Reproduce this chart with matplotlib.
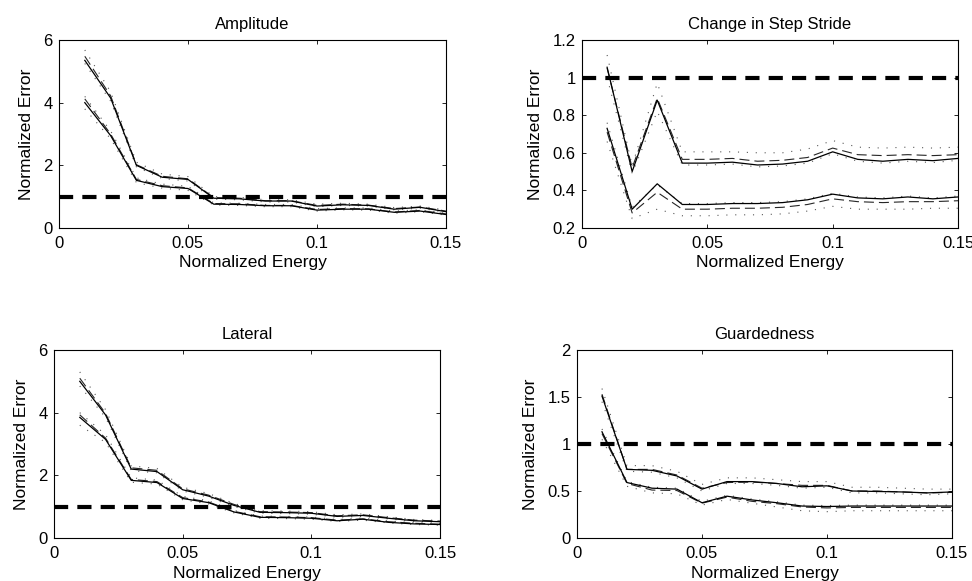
import numpy as np
import matplotlib
matplotlib.use("Agg")
import matplotlib.pyplot as plt

plt.rcParams['font.family'] = ['Liberation Sans', 'DejaVu Sans']

# normalized energy values (x axis)
energy = [0.01, 0.02, 0.03, 0.04, 0.05, 0.06, 0.07, 0.08, 0.09, 0.10, 0.11, 0.12, 0.13, 0.14, 0.15]

# Amplitude
amp_up_solid = [5.35, 4.15, 2.0, 1.62, 1.55, 0.95, 0.93, 0.86, 0.86, 0.70, 0.74, 0.72, 0.60, 0.66, 0.52]
amp_up_dash = [5.48, 4.22, 2.02, 1.65, 1.57, 0.97, 0.95, 0.87, 0.87, 0.72, 0.76, 0.73, 0.62, 0.67, 0.54]
amp_up_hi = [5.68, 4.35, 2.10, 1.72, 1.64, 1.00, 0.98, 0.90, 0.90, 0.76, 0.79, 0.76, 0.65, 0.70, 0.57]
amp_up_lo = [5.25, 4.05, 1.95, 1.58, 1.50, 0.92, 0.90, 0.83, 0.83, 0.68, 0.72, 0.70, 0.58, 0.63, 0.50]
amp_lo_solid = [4.0, 2.95, 1.52, 1.32, 1.26, 0.76, 0.75, 0.71, 0.71, 0.57, 0.60, 0.60, 0.50, 0.54, 0.43]
amp_lo_dash = [4.12, 3.0, 1.55, 1.35, 1.28, 0.78, 0.77, 0.72, 0.72, 0.59, 0.62, 0.61, 0.51, 0.56, 0.45]
amp_lo_hi = [4.2, 3.1, 1.6, 1.40, 1.33, 0.80, 0.79, 0.75, 0.75, 0.62, 0.64, 0.64, 0.54, 0.58, 0.47]
amp_lo_lo = [3.8, 2.85, 1.45, 1.27, 1.20, 0.73, 0.72, 0.68, 0.68, 0.54, 0.58, 0.57, 0.47, 0.52, 0.41]

# Change in Step Stride
str_up_solid = [1.055, 0.50, 0.88, 0.545, 0.545, 0.55, 0.535, 0.54, 0.555, 0.605, 0.565, 0.555, 0.565, 0.558, 0.57]
str_up_dash = [1.05, 0.52, 0.89, 0.565, 0.565, 0.57, 0.555, 0.56, 0.575, 0.625, 0.59, 0.585, 0.59, 0.585, 0.59]
str_up_hi = [1.12, 0.53, 0.97, 0.605, 0.605, 0.605, 0.60, 0.60, 0.62, 0.665, 0.63, 0.625, 0.63, 0.625, 0.63]
str_up_lo = [1.0, 0.49, 0.82, 0.535, 0.535, 0.54, 0.525, 0.53, 0.545, 0.595, 0.555, 0.545, 0.555, 0.548, 0.56]
str_lo_solid = [0.73, 0.30, 0.435, 0.325, 0.325, 0.33, 0.33, 0.335, 0.35, 0.38, 0.36, 0.355, 0.365, 0.355, 0.365]
str_lo_dash = [0.71, 0.28, 0.39, 0.30, 0.30, 0.305, 0.305, 0.31, 0.325, 0.355, 0.34, 0.335, 0.34, 0.34, 0.345]
str_lo_hi = [0.76, 0.31, 0.43, 0.33, 0.33, 0.335, 0.335, 0.34, 0.355, 0.385, 0.365, 0.36, 0.37, 0.36, 0.37]
str_lo_lo = [0.66, 0.25, 0.30, 0.265, 0.265, 0.27, 0.27, 0.275, 0.29, 0.315, 0.30, 0.30, 0.30, 0.305, 0.305]

# Lateral
lat_up_solid = [5.0, 3.93, 2.20, 2.12, 1.54, 1.34, 1.04, 0.82, 0.81, 0.79, 0.69, 0.72, 0.63, 0.55, 0.52]
lat_up_dash = [5.1, 3.98, 2.24, 2.16, 1.57, 1.37, 1.07, 0.84, 0.83, 0.81, 0.71, 0.74, 0.65, 0.57, 0.54]
lat_up_hi = [5.3, 4.1, 2.3, 2.22, 1.62, 1.42, 1.10, 0.87, 0.86, 0.84, 0.74, 0.77, 0.68, 0.59, 0.56]
lat_up_lo = [4.85, 3.85, 2.15, 2.08, 1.50, 1.30, 1.00, 0.79, 0.78, 0.76, 0.66, 0.69, 0.61, 0.53, 0.50]
lat_lo_solid = [3.85, 3.15, 1.84, 1.77, 1.26, 1.13, 0.83, 0.66, 0.65, 0.63, 0.55, 0.60, 0.50, 0.45, 0.43]
lat_lo_dash = [3.93, 3.19, 1.87, 1.80, 1.29, 1.15, 0.85, 0.68, 0.67, 0.65, 0.57, 0.61, 0.52, 0.47, 0.44]
lat_lo_hi = [4.0, 3.3, 1.92, 1.85, 1.33, 1.19, 0.88, 0.70, 0.69, 0.67, 0.59, 0.64, 0.54, 0.49, 0.46]
lat_lo_lo = [3.6, 3.05, 1.78, 1.72, 1.22, 1.09, 0.80, 0.63, 0.62, 0.60, 0.53, 0.57, 0.48, 0.43, 0.41]

# Guardedness
grd_up_solid = [1.51, 0.73, 0.72, 0.66, 0.52, 0.60, 0.60, 0.58, 0.545, 0.555, 0.50, 0.495, 0.49, 0.48, 0.49]
grd_up_dash = [1.53, 0.73, 0.73, 0.67, 0.53, 0.59, 0.595, 0.58, 0.56, 0.56, 0.50, 0.50, 0.49, 0.48, 0.485]
grd_up_hi = [1.59, 0.77, 0.77, 0.71, 0.57, 0.64, 0.64, 0.62, 0.60, 0.60, 0.54, 0.54, 0.53, 0.52, 0.52]
grd_up_lo = [1.45, 0.71, 0.70, 0.64, 0.50, 0.58, 0.58, 0.56, 0.53, 0.54, 0.48, 0.48, 0.47, 0.46, 0.47]
grd_lo_solid = [1.13, 0.59, 0.53, 0.52, 0.375, 0.445, 0.405, 0.375, 0.34, 0.335, 0.34, 0.34, 0.34, 0.34, 0.34]
grd_lo_dash = [1.11, 0.58, 0.51, 0.505, 0.37, 0.435, 0.39, 0.365, 0.33, 0.32, 0.325, 0.325, 0.325, 0.325, 0.325]
grd_lo_hi = [1.16, 0.60, 0.54, 0.53, 0.39, 0.455, 0.415, 0.385, 0.35, 0.345, 0.35, 0.35, 0.35, 0.35, 0.35]
grd_lo_lo = [1.05, 0.55, 0.48, 0.47, 0.35, 0.41, 0.37, 0.33, 0.29, 0.28, 0.29, 0.29, 0.29, 0.29, 0.29]

titles = ["Amplitude", "Change in Step Stride", "Lateral", "Guardedness"]
ylims = [(0, 6), (0.2, 1.2), (0, 6), (0, 2)]
yticks = [[0, 2, 4, 6], [0.2, 0.4, 0.6, 0.8, 1.0, 1.2], [0, 2, 4, 6], [0, 0.5, 1, 1.5, 2]]
xticks = [0, 0.05, 0.1, 0.15]

groups = [
    [(amp_up_solid, amp_up_dash, amp_up_hi, amp_up_lo), (amp_lo_solid, amp_lo_dash, amp_lo_hi, amp_lo_lo)],
    [(str_up_solid, str_up_dash, str_up_hi, str_up_lo), (str_lo_solid, str_lo_dash, str_lo_hi, str_lo_lo)],
    [(lat_up_solid, lat_up_dash, lat_up_hi, lat_up_lo), (lat_lo_solid, lat_lo_dash, lat_lo_hi, lat_lo_lo)],
    [(grd_up_solid, grd_up_dash, grd_up_hi, grd_up_lo), (grd_lo_solid, grd_lo_dash, grd_lo_hi, grd_lo_lo)],
]

# axes boxes in figure fraction (left, bottom, width, height)
boxes = [
    [0.0607, 0.6076, 0.3981, 0.3236],
    [0.5988, 0.6076, 0.3868, 0.3236],
    [0.0556, 0.0740, 0.3971, 0.3236],
    [0.5936, 0.0740, 0.3858, 0.3236],
]

fig = plt.figure(figsize=(9.72, 5.81), dpi=100)

for i in range(4):
    ax = fig.add_axes(boxes[i])
    for solid, dash, hi, lo in groups[i]:
        ax.plot(energy, hi, color='0.35', lw=0.8, linestyle=(0, (1, 7)))
        ax.plot(energy, lo, color='0.35', lw=0.8, linestyle=(0, (1, 7)))
        ax.plot(energy, dash, color='0.15', lw=0.8, linestyle=(0, (9, 4.5)))
        ax.plot(energy, solid, color='black', lw=0.9)
    # reference line at error = 1
    ax.axhline(1, color='black', lw=3, linestyle=(0, (3.4, 2.2)))

    ax.set_xlim(0, 0.15)
    ax.set_ylim(*ylims[i])
    ax.set_xticks(xticks)
    ax.set_xticklabels(["%g" % t for t in xticks])
    ax.set_yticks(yticks[i])
    ax.set_yticklabels(["%g" % t for t in yticks[i]])
    ax.tick_params(direction='in', top=True, right=True, length=3, width=0.6,
                   labelsize=12)
    ax.tick_params(axis='x', pad=6)
    ax.tick_params(axis='y', pad=4.5)
    for s in ax.spines.values():
        s.set_linewidth(0.8)
    ax.set_title(titles[i], fontsize=12, pad=8)
    ax.set_xlabel("Normalized Energy", fontsize=12.5, labelpad=3)
    ax.set_ylabel("Normalized Error", fontsize=12.5, labelpad=7)

fig.savefig("out.png", dpi=100)
